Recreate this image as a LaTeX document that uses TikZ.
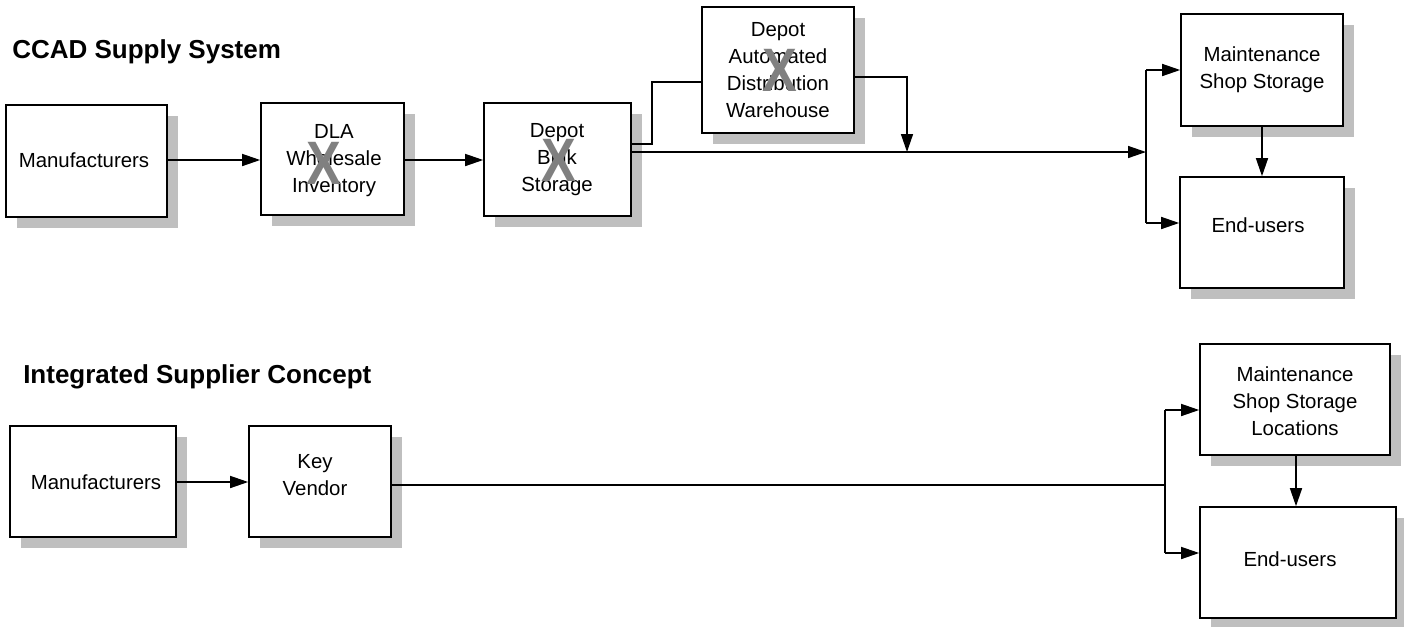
\documentclass[tikz,border=0pt]{standalone}
\usepackage{fontspec}
\setmainfont{Liberation Sans}
\usetikzlibrary{arrows.meta,shadows}
\begin{document}
\begin{tikzpicture}[x=0.75pt,y=-0.75pt,
  box/.style={draw=black, line width=1.2pt, fill=white, rectangle, inner sep=0pt,
    drop shadow={shadow xshift=8.25pt, shadow yshift=-8.5pt, fill=black!25, opacity=1, draw=none}},
  lbl/.style={font=\fontsize{15.3}{20.25}\selectfont, align=center, inner sep=0pt},
  ttl/.style={font=\fontsize{19.5}{24}\selectfont\bfseries, anchor=base west, inner sep=0pt},
  xmark/.style={font=\fontsize{46}{46}\selectfont\bfseries, text=black!50, inner sep=0pt, xscale=0.85},
  conn/.style={line width=1.1pt},
  arr/.style={conn, -{Triangle[length=13.5pt,width=9pt]}}]
\useasboundingbox (0,0) rectangle (1404,626);

% ---------- titles
\node[ttl] (t1) at (12,58) {CCAD Supply System};
\node[ttl] (t2) at (23,383) {Integrated Supplier Concept};

% ---------- top boxes
\node[box, minimum width=120.75pt, minimum height=84pt] (m1) at (86.5,161) {};
\node[box, minimum width=107.25pt, minimum height=84pt] (dla) at (332.5,159) {};
\node[box, minimum width=110.25pt, minimum height=84.75pt] (dbs) at (557.5,159.5) {};
\node[box, minimum width=114pt, minimum height=94.5pt] (dadw) at (778,70) {};
\node[box, minimum width=121.5pt, minimum height=84pt] (mss) at (1262,70) {};
\node[box, minimum width=123pt, minimum height=83.25pt] (eu) at (1262,232.5) {};

\node[lbl] (m1t) at (84,160) {Manufacturers};
\node[lbl] (dlat) at (334,161) {DLA\\Wholesale\\Inventory};
\node[xmark] (dlax) at (323.5,163.5) {X};
\node[lbl] (dbst) at (557,160) {Depot\\Bulk\\Storage};
\node[xmark] (dbsx) at (559,160) {X};
\node[lbl] (dadwt) at (778,70) {Depot\\Automated\\Distribution\\Warehouse};
\node[xmark] (dadwx) at (780,70.5) {X};
\node[lbl] (msst) at (1262,70) {Maintenance\\Shop Storage};
\node[lbl] (eut) at (1258,225) {End-users};

% ---------- bottom boxes
\node[box, minimum width=124.5pt, minimum height=83.25pt] (m2) at (93,481.5) {};
\node[box, minimum width=106.5pt, minimum height=83.25pt] (kv) at (320,481.5) {};
\node[box, minimum width=142.5pt, minimum height=83.25pt] (mssl) at (1295,399.5) {};
\node[box, minimum width=147pt, minimum height=83.25pt] (eu2) at (1298,562.5) {};

\node[lbl] (m2t) at (96,482) {Manufacturers};
\node[lbl] (kvt) at (315,475) {Key\\Vendor};
\node[lbl] (msslt) at (1295,401) {Maintenance\\Shop Storage\\Locations};
\node[lbl] (eu2t) at (1290,559) {End-users};

% ---------- top connectors
\draw[arr] (m1.east |- 0,160) -- (dla.west |- 0,160);
\draw[arr] (dla.east |- 0,160) -- (dbs.west |- 0,160);
\coordinate (b1) at (652,144);
\coordinate (b2) at (652,82);
\draw[conn] (dbs.east |- b1) -- (b1) -- (b2) -- (dadw.west |- b2);
\coordinate (d1) at (907,77);
\coordinate (d2) at (907,152);
\draw[arr] (dadw.east |- d1) -- (d1) -- (d2);
\coordinate (jm) at (1146,152);
\coordinate (jt) at (1146,70);
\coordinate (jb) at (1146,223);
\draw[arr] (dbs.east |- jm) -- (jm);
\draw[conn] (jt) -- (jb);
\draw[arr] (jt) -- (mss.west |- jt);
\draw[arr] (jb) -- (eu.west |- jb);
\draw[arr] (mss.south) -- (eu.north -| mss.south);

% ---------- bottom connectors
\draw[arr] (m2.east |- 0,482) -- (kv.west |- 0,482);
\coordinate (km) at (1165,485);
\coordinate (kt) at (1165,410);
\coordinate (kb) at (1165,553);
\draw[conn] (kv.east |- km) -- (km);
\draw[conn] (kt) -- (kb);
\draw[arr] (kt) -- (mssl.west |- kt);
\draw[arr] (kb) -- (eu2.west |- kb);
\draw[arr] (mssl.south -| 1296,0) -- (eu2.north -| 1296,0);
\end{tikzpicture}
\end{document}
